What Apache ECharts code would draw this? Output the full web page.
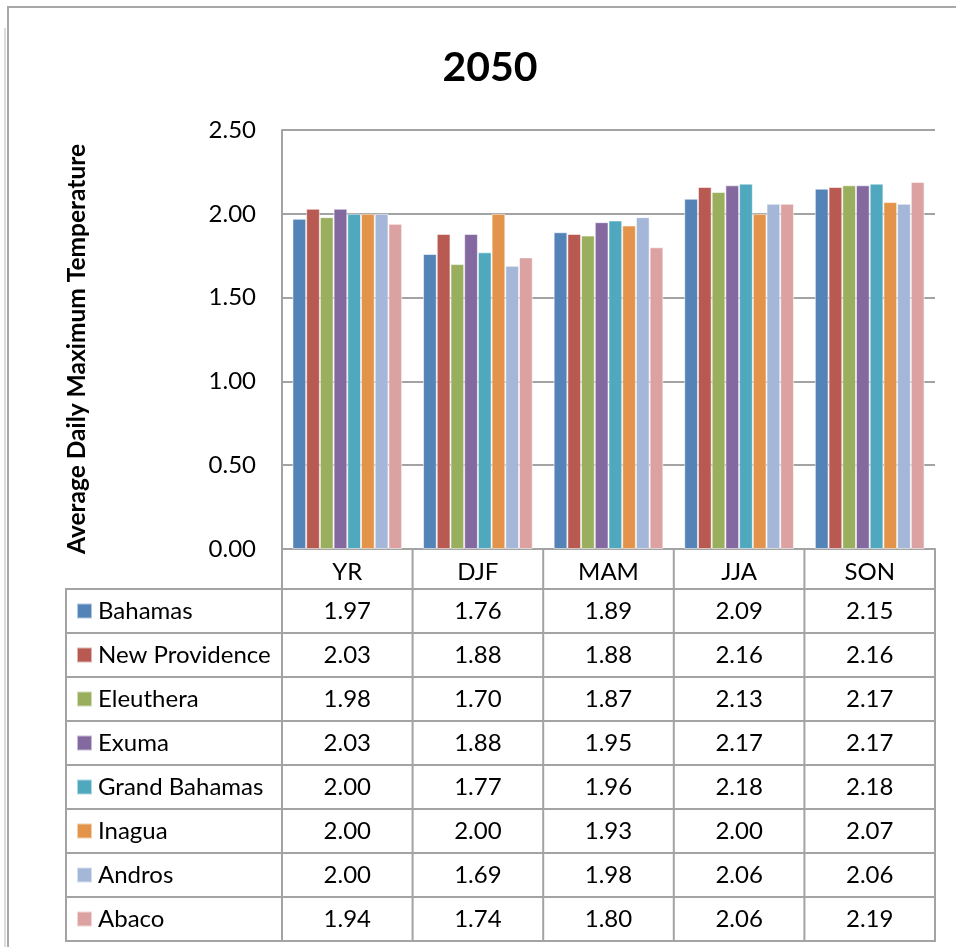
<!DOCTYPE html>
<html><head><meta charset="utf-8">
<script src="https://cdn.jsdelivr.net/npm/echarts/dist/echarts.min.js"></script>
<style>html,body{margin:0;padding:0;background:#fff}#c{width:956px;height:947px}</style>
</head><body><div id="c"></div>
<script>
// ---- data ----
const titleText = '2050';
const yAxisTitle = 'Average Daily Maximum Temperature';
const categories = ['YR', 'DJF', 'MAM', 'JJA', 'SON'];
const seriesNames = ['Bahamas', 'New Providence', 'Eleuthera', 'Exuma', 'Grand Bahamas', 'Inagua', 'Andros', 'Abaco'];
const bahamas       = [1.97, 1.76, 1.89, 2.09, 2.15];
const newProvidence = [2.03, 1.88, 1.88, 2.16, 2.16];
const eleuthera     = [1.98, 1.70, 1.87, 2.13, 2.17];
const exuma         = [2.03, 1.88, 1.95, 2.17, 2.17];
const grandBahamas  = [2.00, 1.77, 1.96, 2.18, 2.18];
const inagua        = [2.00, 2.00, 1.93, 2.00, 2.07];
const andros        = [2.00, 1.69, 1.98, 2.06, 2.06];
const abaco         = [1.94, 1.74, 1.80, 2.06, 2.19];
const yTickLabels = ['0.00', '0.50', '1.00', '1.50', '2.00', '2.50'];

const seriesValues = [bahamas, newProvidence, eleuthera, exuma, grandBahamas, inagua, andros, abaco];
const colors = ['#5383B7', '#B85A52', '#9AAF5E', '#8469A0', '#4FA8BE', '#E3944A', '#A5B7D8', '#DCA2A2'];

// ---- layout ----
const W = 956, H = 947;
const gridLeft = 282, gridRight = 935, gridTop = 130, gridBottom = 549;
const rowH = 44, headerBottom = 589, tableLeft = 66;
const font = 'Lato, "Open Sans", sans-serif';
const lineColor = '#a3a3a3';
const fs = 24;

const chart = echarts.init(document.getElementById('c'), null, {renderer: 'canvas'});

const bw = (gridRight - gridLeft) / categories.length;
const graphics = [];
// outer frame
graphics.push({type: 'rect', shape: {x: 8, y: 7, width: 1100, height: 1100}, style: {fill: 'none', stroke: '#a8a8a8', lineWidth: 2}, silent: true});
graphics.push({type: 'line', shape: {x1: 5, y1: 28, x2: 5, y2: H}, style: {stroke: '#d0d0d0', lineWidth: 1.5}, silent: true});
// title
graphics.push({type: 'text', x: 490, y: 68, style: {text: titleText, font: 'bold 41px ' + font, fill: '#000', align: 'center', verticalAlign: 'middle'}});
// y axis title
graphics.push({type: 'text', x: 77, y: 349, rotation: Math.PI / 2, style: {text: yAxisTitle, font: 'bold 24.5px ' + font, fill: '#000', align: 'center', verticalAlign: 'middle'}});
// table verticals
for (let i = 0; i <= categories.length; i++) {
  const x = gridLeft + i * bw;
  graphics.push({type: 'line', shape: {x1: x, y1: gridBottom, x2: x, y2: headerBottom + rowH * seriesNames.length}, style: {stroke: lineColor, lineWidth: 2}, silent: true});
}
graphics.push({type: 'line', shape: {x1: tableLeft, y1: headerBottom, x2: tableLeft, y2: headerBottom + rowH * seriesNames.length}, style: {stroke: lineColor, lineWidth: 2}, silent: true});
for (let j = 0; j <= seriesNames.length; j++) {
  const y = headerBottom + j * rowH;
  graphics.push({type: 'line', shape: {x1: tableLeft - 1, y1: y, x2: gridRight + 1, y2: y}, style: {stroke: lineColor, lineWidth: 2}, silent: true});
}
// table values
seriesValues.forEach((vals, j) => {
  vals.forEach((v, i) => {
    graphics.push({type: 'text', x: gridLeft + (i + 0.5) * bw, y: headerBottom + (j + 0.5) * rowH,
      style: {text: v.toFixed(2), font: fs + 'px ' + font, fill: '#000', align: 'center', verticalAlign: 'middle'}});
  });
});

const option = {
  animation: false,
  color: colors,
  grid: {left: gridLeft, top: gridTop, width: gridRight - gridLeft, height: gridBottom - gridTop, containLabel: false},
  legend: {
    orient: 'vertical', left: 76, top: headerBottom, padding: 0, itemGap: 0,
    itemWidth: 15, itemHeight: 15, icon: 'rect', selectedMode: false,
    textStyle: {fontFamily: font, fontSize: fs, color: '#000', lineHeight: rowH, padding: [0, 0, 0, 1]},
    data: seriesNames
  },
  xAxis: {
    type: 'category', data: categories,
    axisLine: {show: true, lineStyle: {color: lineColor, width: 2}},
    axisTick: {show: false},
    axisLabel: {fontFamily: font, fontSize: fs, color: '#000', margin: 11}
  },
  yAxis: {
    type: 'value', min: 0, max: 2.5, interval: 0.5,
    axisLine: {show: true, lineStyle: {color: lineColor, width: 2}},
    axisTick: {show: false},
    axisLabel: {fontFamily: font, fontSize: fs, color: '#000', margin: 26,
      formatter: (v) => yTickLabels[Math.round(v / 0.5)]},
    splitLine: {lineStyle: {color: lineColor, width: 2}}
  },
  series: seriesNames.map((name, k) => ({
    name, type: 'bar', data: seriesValues[k],
    barGap: '0%', barCategoryGap: '16%',
    itemStyle: {borderColor: 'rgba(255,255,255,0.55)', borderWidth: 1}
  })),
  graphic: graphics
};
chart.setOption(option);
</script>
</body></html>
